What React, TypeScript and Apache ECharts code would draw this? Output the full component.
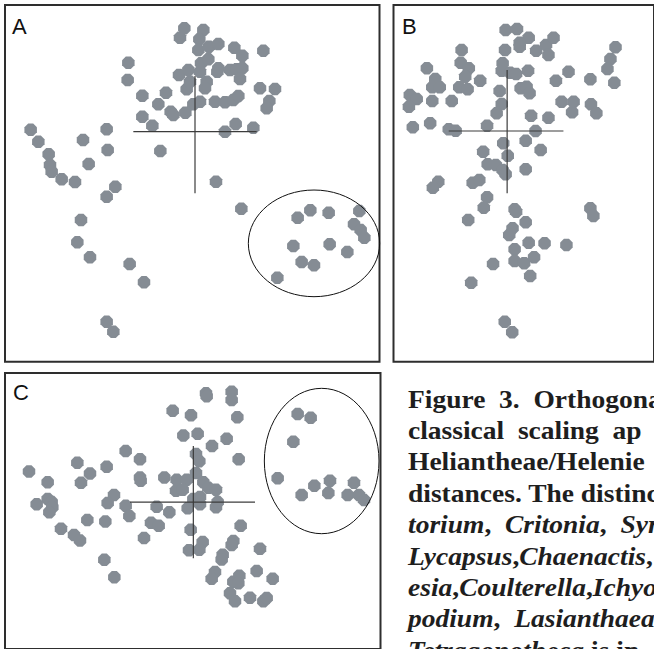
import React, { useEffect, useRef } from "react";
import * as echarts from "echarts";

// Point positions (units: reference reading grid, y grows downward)
const pointsA: number[][] = [
  [553, 85], [540, 113], [610, 90], [598, 118], [595, 150], [627, 140], [655, 132], [703, 143], [727, 167], [790, 152],
  [385, 188], [383, 240], [537, 225], [565, 210], [603, 190], [625, 178], [600, 215], [655, 205], [652, 215], [690, 210],
  [710, 208], [727, 205], [720, 237], [620, 245], [615, 265], [560, 268], [570, 245], [780, 265], [825, 267], [427, 287],
  [498, 278], [475, 313], [580, 313], [600, 305], [645, 305], [675, 307], [700, 300], [715, 288], [808, 303], [800, 325],
  [427, 350], [512, 335], [520, 345], [556, 338], [457, 377], [707, 372], [760, 383], [675, 395], [92, 389], [115, 425],
  [249, 420], [320, 388], [323, 450], [146, 463], [150, 495], [155, 515], [185, 538], [225, 546], [266, 492], [481, 453],
  [648, 545], [346, 560], [320, 590], [724, 626], [243, 660], [232, 727], [270, 772], [389, 792], [432, 847], [320, 965],
  [340, 995], [893, 653], [931, 631], [986, 638], [1078, 633], [1062, 673], [1082, 690], [1093, 713], [880, 738], [989, 733],
  [1042, 756], [905, 786], [942, 796], [832, 833],
];

const pointsB: number[][] = [
  [385, 90], [423, 87], [462, 113], [432, 128], [432, 140], [487, 152], [520, 135], [545, 113], [528, 165], [383, 150],
  [238, 150], [122, 205], [235, 188], [262, 205], [250, 230], [150, 237], [140, 262], [165, 262], [230, 262], [258, 268],
  [300, 242], [375, 190], [372, 212], [400, 218], [420, 222], [460, 212], [435, 265], [455, 260], [465, 280], [365, 273],
  [372, 312], [355, 340], [553, 242], [595, 215], [668, 238], [752, 142], [735, 177], [725, 207], [748, 248], [65, 285],
  [88, 297], [62, 320], [140, 303], [205, 303], [572, 305], [612, 305], [607, 337], [670, 313], [688, 340], [470, 347],
  [528, 353], [75, 382], [133, 370], [195, 388], [218, 392], [323, 377], [485, 393], [377, 430], [452, 422], [310, 455],
  [392, 467], [502, 450], [325, 493], [352, 495], [375, 510], [385, 523], [452, 508], [160, 545], [142, 563], [275, 548],
  [297, 540], [323, 592], [312, 623], [415, 628], [420, 635], [452, 667], [260, 660], [408, 685], [397, 705], [462, 728],
  [515, 730], [588, 735], [415, 748], [668, 625], [678, 648], [343, 792], [415, 783], [447, 790], [480, 772], [467, 828],
  [270, 848], [382, 965], [407, 997],
];

const pointsC: number[][] = [
  [618, 90], [620, 100], [695, 85], [695, 112], [518, 147], [573, 162], [712, 168], [550, 228], [593, 222], [636, 262],
  [680, 238], [377, 278], [420, 305], [232, 317], [320, 330], [270, 352], [243, 382], [87, 345], [143, 380], [588, 288],
  [598, 312], [716, 305], [588, 350], [420, 365], [422, 375], [493, 365], [530, 372], [560, 372], [610, 380], [625, 398],
  [648, 405], [528, 408], [548, 405], [342, 422], [323, 448], [143, 435], [155, 445], [110, 452], [157, 462], [148, 478],
  [377, 457], [388, 490], [470, 460], [508, 478], [580, 435], [600, 428], [600, 452], [563, 465], [648, 462], [653, 445],
  [262, 503], [316, 508], [183, 532], [222, 552], [240, 570], [453, 512], [476, 522], [432, 562], [572, 535], [722, 522],
  [608, 575], [598, 600], [567, 602], [700, 572], [695, 585], [780, 597], [668, 617], [665, 632], [313, 633], [343, 690],
  [645, 673], [635, 695], [718, 685], [700, 705], [715, 710], [770, 670], [818, 695], [690, 742], [705, 768], [750, 757],
  [790, 768], [800, 758], [893, 158], [932, 170], [880, 248], [833, 367], [943, 392], [990, 375], [1062, 382], [905, 422],
  [985, 415], [1043, 422], [1077, 422], [1092, 438],
];

// Centroid crosses: [horizontal segment], [vertical segment]
const crossAH = [[400, 395], [770, 395]];
const crossAV = [[585, 228], [585, 580]];
const crossBH = [[195, 393], [578, 393]];
const crossBV = [[390, 210], [390, 580]];
const crossCH = [[390, 445], [765, 445]];
const crossCV = [[580, 262], [580, 628]];

// Ellipses: [centerX, centerY, radiusX, radiusY]
const ellipseA = [942, 730, 197, 160];
const ellipseC = [965, 311, 172, 237];

const panelLabels = ["A", "B", "C"];

type Seg = [string, "b" | "i"];
const captionLines: Seg[][] = [
  [["Figure  3.  Orthogona", "b"]],
  [["classical  scaling  ap", "b"]],
  [["Heliantheae/Helenie", "b"]],
  [["distances. The distinct", "b"]],
  [["torium", "i"], [",  ", "b"], ["Critonia", "i"], [",  ", "b"], ["Syr", "i"]],
  [["Lycapsus", "i"], [",", "b"], ["Chaenactis", "i"], [",", "b"]],
  [["esia", "i"], [",", "b"], ["Coulterella", "i"], [",", "b"], ["Ichyo", "i"]],
  [["podium", "i"], [",  ", "b"], ["Lasianthaea", "i"]],
  [["Tetragonotheca", "i"], [" is in", "b"]],
];

const OCT = "path://M-4,-10 L4,-10 L10,-4 L10,4 L4,10 L-4,10 L-10,4 L-10,-4 Z";
const POINT_COLOR = "#858c94";

export default function App() {
  const ref = useRef<HTMLDivElement>(null);

  useEffect(() => {
    const chart = echarts.init(ref.current!, null, { renderer: "svg" });

    const grids = [
      { left: 5, top: 5, width: 374.5, height: 356.7 },
      { left: 393.5, top: 5, width: 290, height: 356.7 },
      { left: 5, top: 373, width: 375.5, height: 300 },
    ];
    const xRanges = [[15, 1138.5], [10.5, 880.5], [15, 1141.5]];
    const yRanges = [[15, 1085], [15, 1085], [24, 924]];

    const pointSets = [pointsA, pointsB, pointsC];
    const crosses = [[crossAH, crossAV], [crossBH, crossBV], [crossCH, crossCV]];
    const ellipses: [number, number[]][] = [[0, ellipseA], [2, ellipseC]];

    const series: any[] = [];
    pointSets.forEach((pts, i) => {
      series.push({
        type: "scatter",
        xAxisIndex: i,
        yAxisIndex: i,
        data: pts,
        symbol: OCT,
        symbolSize: 12.5,
        itemStyle: { color: POINT_COLOR, opacity: 1 },
        z: 2,
        silent: true,
      });
    });
    crosses.forEach((pair, i) => {
      pair.forEach((seg) => {
        series.push({
          type: "line",
          xAxisIndex: i,
          yAxisIndex: i,
          data: seg,
          symbol: "none",
          lineStyle: { color: "#3c3c3c", width: 1.2 },
          z: 3,
          silent: true,
        });
      });
    });
    ellipses.forEach(([gi, e]) => {
      series.push({
        type: "custom",
        xAxisIndex: gi,
        yAxisIndex: gi,
        data: [e],
        clip: false,
        z: 4,
        silent: true,
        renderItem: (_p: any, api: any) => {
          const c = api.coord([api.value(0), api.value(1)]);
          const s = api.size([api.value(2), api.value(3)]);
          return {
            type: "ellipse",
            shape: { cx: c[0], cy: c[1], rx: Math.abs(s[0]), ry: Math.abs(s[1]) },
            style: { fill: "none", stroke: "#111", lineWidth: 1 },
          };
        },
      });
    });

    const labelPos = [[12, 26.4], [402, 26.4], [13, 392.4]];
    const graphics: any[] = panelLabels.map((t, i) => ({
      type: "text",
      x: labelPos[i][0],
      y: labelPos[i][1],
      z: 10,
      style: {
        text: t,
        fontFamily: "Liberation Sans",
        fontSize: 22,
        fill: "#111",
        textAlign: "left",
        textVerticalAlign: "middle",
        align: "left",
        verticalAlign: "middle",
      },
    }));

    const baseFont = { fontFamily: "Liberation Serif", fontWeight: "bold", fontSize: 25, fill: "#1e1e1e" };
    captionLines.forEach((segs, i) => {
      graphics.push({
        type: "text",
        x: 408,
        y: 399.5 + i * 31.4,
        scaleX: 1.1,
        z: 10,
        style: {
          text: segs.map(([t, s]) => `{${s}|${t}}`).join(""),
          ...baseFont,
          textAlign: "left",
          textVerticalAlign: "middle",
          align: "left",
          verticalAlign: "middle",
          rich: {
            b: { ...baseFont },
            i: { ...baseFont, fontStyle: "italic" },
          },
        },
      });
    });

    chart.setOption({
      animation: false,
      backgroundColor: "#ffffff",
      grid: grids.map((g) => ({
        ...g,
        show: true,
        borderColor: "#2e2e2e",
        borderWidth: 2,
        backgroundColor: "#ffffff",
        containLabel: false,
      })),
      xAxis: xRanges.map((r, i) => ({
        type: "value",
        gridIndex: i,
        min: r[0],
        max: r[1],
        show: false,
      })),
      yAxis: yRanges.map((r, i) => ({
        type: "value",
        gridIndex: i,
        inverse: true,
        min: r[0],
        max: r[1],
        show: false,
      })),
      series,
      graphic: graphics,
    });

    return () => chart.dispose();
  }, []);

  return (
    <div
      ref={ref}
      style={{ position: "fixed", left: 0, top: 0, width: 654, height: 649, background: "#fff" }}
    />
  );
}
